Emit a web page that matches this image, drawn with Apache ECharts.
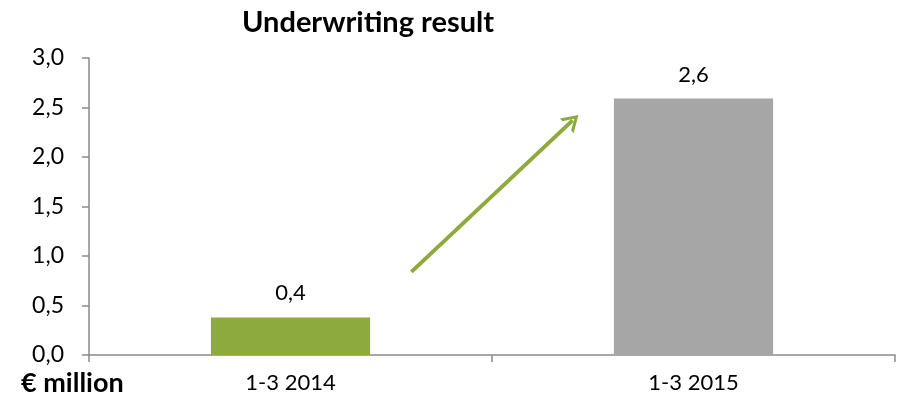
<!DOCTYPE html>
<html>
<head>
<meta charset="utf-8">
<script src="https://cdn.jsdelivr.net/npm/echarts@6/dist/echarts.min.js"></script>
<style>
  html, body { margin: 0; padding: 0; background: #ffffff; }
  #chart { width: 899px; height: 403px; }
</style>
</head>
<body>
<div id="chart"></div>
<script>
// Data
const categories = ['1-3 2014', '1-3 2015'];
const values = [0.38, 2.59];
const valueLabels = ['0,4', '2,6'];
const barColors = ['#8dab3d', '#a6a6a6'];
// Arrow annotation in (category position, value) space
const arrowFrom = [0.30, 0.84];
const arrowTo = [0.70, 2.37];

const FONT = 'Lato, "Open Sans", sans-serif';
const AXIS_GREY = '#8a8a8a';

function fmt(v) {
    return v.toFixed(1).replace('.', ',');
}

const chart = echarts.init(document.getElementById('chart'));

chart.setOption({
    animation: false,
    backgroundColor: '#ffffff',
    title: {
        text: 'Underwriting result',
        left: 363,
        top: 3,
        textAlign: 'center',
        textStyle: { fontFamily: FONT, fontWeight: 'bold', fontSize: 29, color: '#000' }
    },
    graphic: [{
        type: 'text',
        left: 21,
        top: 370,
        style: { text: '€ million', font: 'bold 27px ' + FONT, fill: '#000' }
    }],
    grid: { left: 89, right: 4, top: 58, bottom: 48 },
    xAxis: [{
        type: 'category',
        data: categories,
        axisLine: { lineStyle: { color: AXIS_GREY, width: 1.5 } },
        axisTick: { show: true, length: 7, lineStyle: { color: AXIS_GREY, width: 1.5 } },
        axisLabel: { fontFamily: FONT, fontSize: 22, color: '#000', margin: 17 }
    }, {
        type: 'value',
        min: -0.5,
        max: 1.5,
        show: false
    }],
    yAxis: {
        type: 'value',
        min: 0,
        max: 3,
        interval: 0.5,
        splitLine: { show: false },
        axisLine: { show: true, onZero: false, lineStyle: { color: AXIS_GREY, width: 1.5 } },
        axisTick: { show: true, length: 7, lineStyle: { color: AXIS_GREY, width: 1.5 } },
        axisLabel: { fontFamily: FONT, fontSize: 23, color: '#000', margin: 25, formatter: fmt }
    },
    series: [{
        type: 'bar',
        barWidth: '39.5%',
        data: values.map((v, i) => ({ value: v, itemStyle: { color: barColors[i] } })),
        label: {
            show: true,
            position: 'top',
            distance: 13,
            fontFamily: FONT,
            fontSize: 22,
            color: '#000',
            formatter: p => valueLabels[p.dataIndex]
        }
    }, {
        type: 'scatter',
        xAxisIndex: 1,
        data: [],
        symbolSize: 0,
        markLine: {
            silent: true,
            symbol: ['none', 'path://M0,14 L7,0 L14,14 L11.5,14 L7,5 L2.5,14 Z'],
            symbolSize: [20, 16],
            symbolOffset: [0, 0],
            label: { show: false },
            lineStyle: { color: '#8dab3d', width: 4, type: 'solid' },
            data: [[{ coord: arrowFrom }, { coord: arrowTo }]]
        }
    }]
});
</script>
</body>
</html>
